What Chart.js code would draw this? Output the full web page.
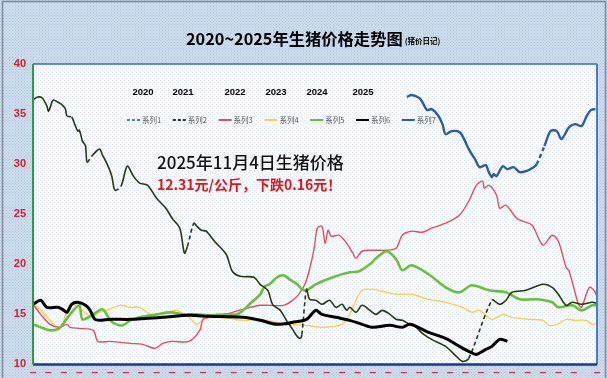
<!DOCTYPE html>
<html><head><meta charset="utf-8">
<script src="https://cdn.jsdelivr.net/npm/chart.js@4/dist/chart.umd.min.js"></script>
<style>
html,body{margin:0;padding:0;width:608px;height:378px;overflow:hidden;background:#cbdcef;}
canvas{display:block;}
</style></head><body>
<canvas id="c" width="608" height="378"></canvas>
<script>
// ---------- data (day of year, price 元/公斤); null = gap drawn dashed ----------
const TITLE = '2020~2025年生猪价格走势图';
const TITLE_NOTE = '(猪价日记)';
const YEARS = ['2020','2021','2022','2023','2024','2025'];
const SERIES_NAMES = ['系列1','系列2','系列3','系列4','系列5','系列6','系列7'];
const NOTE_LINE1 = '2025年11月4日生猪价格';
const NOTE_LINE2 = '12.31元/公斤，下跌0.16元！';
const Y_TICKS = [10,15,20,25,30,35,40];

const p2020dash = [];
const p2020 = [[242,36.7],[245,36.9],[250,36.6],[252,36.2],[255,35.4],[258,35.5],[262,34.9],[265,34.0],[267,33.0],[271,33.3],[276,33.2],[279,32.5],[282,31.5],[286,30.5],[289,29.7],[293,29.9],[295,29.2],[297,28.7],[298,29.0],[300,28.8],[304,29.8],[307,29.5],[311,29.7],[315,29.2],[319,29.3],[324,29.7],[326,30.0],[328,null],[331,31.8],[335,33.3],[339,33.3],[342,32.5],[347,33.7],[351,34.0],[355,33.8],[358,34.7],[361,35.4],[364,35.5]];
const p2021 = [[0,36.4],[3,36.7],[6,36.6],[9,35.8],[10,35.3],[11,35.6],[13,36.4],[16,36.2],[19,35.9],[21,35.5],[22,34.8],[23,null],[25,34.7],[27,34.0],[29,33.3],[30,33.4],[32,32.3],[34,31.8],[35,30.2],[36,null],[38,30.8],[43,31.5],[45,30.9],[48,30.0],[51,28.8],[53,27.4],[55,null],[57,27.8],[61,29.8],[65,28.8],[69,28.1],[74,27.9],[80,26.6],[86,25.6],[90,24.6],[95,23.6],[98,21.1],[100,21.8],[101,null],[104,24.1],[106,23.8],[109,23.4],[112,23.3],[118,22.2],[125,21.0],[129,19.3],[134,18.8],[143,18.7],[147,18.0],[152,17.4],[155,16.0],[160,15.4],[164,14.4],[168,13.5],[171,12.8],[173,12.6],[174,13.0],[175,null],[177,17.5],[179,16.5],[183,16.4],[187,16.0],[192,16.4],[196,15.7],[200,16.0],[203,15.4],[205,15.7],[209,15.2],[213,15.9],[218,15.4],[222,15.0],[226,15.4],[231,15.0],[235,14.5],[239,14.4],[244,14.0],[246,14.0],[252,13.1],[258,12.5],[267,11.8],[274,10.8],[278,10.3],[282,10.6],[283,null],[297,16.4],[302,16.0],[306,16.4],[310,17.2],[319,17.4],[330,18.0],[336,17.7],[340,17.0],[345,15.9],[349,16.2],[355,16.0],[362,16.2],[365,16.1]];
const p2022 = [[0,16.0],[5,15.0],[11,14.0],[17,13.7],[22,14.0],[24,13.7],[30,13.6],[39,13.4],[42,12.3],[50,12.3],[63,12.1],[71,12.0],[79,11.6],[84,12.1],[90,12.3],[101,12.3],[108,13.4],[110,14.5],[114,14.7],[119,15.0],[123,14.9],[129,15.2],[136,15.5],[147,15.9],[162,15.9],[168,16.4],[172,17.0],[176,18.0],[179,19.5],[182,21.6],[184,23.6],[187,23.8],[189,22.1],[191,23.4],[193,22.8],[198,22.9],[203,22.1],[207,21.1],[209,20.6],[213,21.3],[220,21.4],[229,21.4],[235,21.6],[239,22.9],[245,23.3],[252,23.2],[258,23.6],[267,24.1],[276,24.9],[282,26.3],[287,27.9],[291,28.3],[292,27.6],[295,27.9],[300,26.9],[302,25.6],[306,25.9],[313,24.6],[317,24.3],[323,23.9],[330,21.9],[336,22.9],[340,22.3],[345,19.7],[347,19.3],[353,16.0],[355,15.7],[360,17.7],[363,17.4],[365,16.8]];
const p2023 = [[0,16.0],[5,15.4],[11,14.4],[16,13.7],[19,13.9],[22,15.4],[26,16.0],[30,15.6],[35,15.0],[39,14.8],[43,15.2],[48,15.4],[56,15.9],[63,15.7],[69,15.7],[76,15.0],[84,15.0],[93,15.4],[101,14.7],[106,14.0],[110,14.4],[114,14.7],[127,14.6],[136,14.4],[147,14.5],[158,14.2],[166,14.0],[177,13.9],[187,13.7],[200,14.0],[205,15.0],[209,16.4],[213,17.4],[220,17.5],[226,17.3],[235,17.0],[245,17.0],[256,16.5],[267,16.2],[278,15.7],[284,15.2],[289,15.4],[297,14.5],[304,15.0],[310,14.7],[321,14.5],[330,14.4],[334,13.9],[339,14.0],[345,14.5],[351,14.4],[358,14.4],[362,14.0],[365,14.1]];
const p2024 = [[0,14.0],[5,13.7],[11,13.4],[17,13.6],[24,15.0],[30,15.9],[32,14.5],[39,15.0],[45,15.5],[50,14.4],[54,14.0],[58,13.9],[63,14.4],[69,14.7],[80,15.0],[89,15.2],[97,15.0],[106,15.0],[114,14.9],[124,15.0],[132,15.0],[136,15.4],[140,16.0],[147,17.0],[150,17.8],[153,18.0],[158,18.7],[162,18.9],[166,18.5],[171,18.0],[174,17.5],[177,17.4],[183,18.0],[194,18.7],[205,19.2],[211,19.3],[218,20.0],[222,20.6],[229,21.3],[235,20.5],[239,19.4],[245,19.9],[256,19.0],[267,17.7],[276,17.2],[284,17.9],[295,17.4],[306,17.2],[315,16.5],[326,16.5],[336,16.2],[340,15.7],[349,15.9],[355,15.4],[362,15.9],[365,15.9]];
const p2025 = [[0,16.0],[5,16.4],[9,15.7],[16,15.7],[19,15.5],[22,15.2],[25,16.0],[29,16.2],[34,15.9],[37,15.4],[40,14.5],[43,14.4],[50,14.5],[63,14.5],[84,14.7],[101,14.9],[114,14.8],[136,14.7],[147,14.4],[158,14.0],[168,14.2],[177,14.5],[183,15.4],[187,15.0],[196,14.7],[205,14.4],[213,14.0],[220,13.7],[231,13.9],[239,13.7],[244,14.0],[256,13.2],[267,12.6],[276,11.8],[282,11.3],[287,11.0],[293,11.5],[297,11.8],[302,12.5],[307,12.3]];

// ---------- styles ----------
const STYLES = [
  {color:'#4f81bd', width:2,   dash:[3,2], order:6},
  {color:'#243c12', width:1.6, dash:[3,2], order:1},
  {color:'#e0525a', width:1.4, dash:[],    order:3},
  {color:'#f3d24c', width:1.4, dash:[],    order:4},
  {color:'#6cbf3c', width:2.6, dash:[],    order:2},
  {color:'#000000', width:3,   dash:[],    order:0},
  {color:'#2f5d9e', width:2.4, dash:[],    order:5}
];
const SERIES_DATA = [p2020dash, p2021, p2022, p2023, p2024, p2025, p2020];

const gapDash = ctx => (ctx.p0.skip || ctx.p1.skip) ? [4,3] : undefined;

const datasets = SERIES_DATA.map((arr,i) => ({
  label: SERIES_NAMES[i],
  data: arr.map(([x,y]) => ({x, y})),
  borderColor: STYLES[i].color,
  borderWidth: STYLES[i].width,
  legendDash: STYLES[i].dash,
  order: STYLES[i].order,
  pointRadius: 0,
  tension: 0.3,
  spanGaps: true,
  fill: false,
  segment: {borderDash: gapDash}
}));

function makePattern(bg, dot, size){
  const c = document.createElement('canvas'); c.width = size; c.height = size;
  const g = c.getContext('2d');
  g.fillStyle = bg; g.fillRect(0,0,size,size);
  g.fillStyle = dot; g.fillRect(0,0,1,1);
  g.fillRect(size/2, size/2, 1, 1);
  return c;
}

const decoPlugin = {
  id:'deco',
  beforeDraw(chart){
    const {ctx, chartArea:a, width, height} = chart;
    ctx.save();
    ctx.fillStyle = ctx.createPattern(makePattern('#cddcee','#b4c6dc',3),'repeat');
    ctx.fillRect(0,0,width,height);
    ctx.strokeStyle = '#7d8898'; ctx.lineWidth = 1.5;
    ctx.strokeRect(2.5,1.5,width-5,height+5);
    ctx.fillStyle = ctx.createPattern(makePattern('#f7f9fc','#dfe6ef',4),'repeat');
    ctx.fillRect(a.left,a.top,a.right-a.left,a.bottom-a.top);
    ctx.restore();
  },
  afterDatasetsDraw(chart){
    const {ctx, chartArea:a} = chart;
    ctx.save();
    const line=(x1,y1,x2,y2,c,w)=>{ctx.strokeStyle=c;ctx.lineWidth=w;ctx.beginPath();ctx.moveTo(x1,y1);ctx.lineTo(x2,y2);ctx.stroke();};
    line(a.left,a.top,a.right,a.top,'#3a6cc0',1.5);
    line(a.right,a.top,a.right,a.bottom,'#4a7cc9',2);
    line(a.left,a.bottom,a.right,a.bottom,'#1d3a85',2.5);
    line(a.left,a.top,a.left,a.bottom,'#2a9a45',2);
    ctx.restore();
  },
  afterDraw(chart){
    const ctx = chart.ctx;
    ctx.save();
    ctx.textBaseline='middle'; ctx.textAlign='left';
    // title
    ctx.fillStyle='#000';
    ctx.font='bold 16.3px "Noto Sans CJK SC"';
    const tx = 186;
    ctx.fillText(TITLE, tx, 39);
    const tw = ctx.measureText(TITLE).width;
    ctx.font='bold 7.5px "Noto Sans CJK SC"';
    ctx.fillText(TITLE_NOTE, tx+tw+2, 41);
    // years
    ctx.font='bold 9.5px "Liberation Sans"';
    ctx.textAlign='center';
    const yearX=[143,183,235,276,317,363];
    YEARS.forEach((y,i)=>ctx.fillText(y, yearX[i], 92));
    // legend
    ctx.textAlign='left';
    chart.data.datasets.forEach((ds,i)=>{
      const x = 127 + i*45.8, y = 120;
      ctx.strokeStyle = ds.borderColor; ctx.lineWidth = 2;
      ctx.setLineDash(ds.legendDash||[]);
      ctx.beginPath(); ctx.moveTo(x,y); ctx.lineTo(x+13,y); ctx.stroke();
      ctx.setLineDash([]);
      ctx.fillStyle='#595959'; ctx.font='7.5px "Noto Sans CJK SC"';
      ctx.fillText(ds.label, x+15, y);
    });
    // annotation
    ctx.fillStyle='#111';
    ctx.font='500 17px "Noto Sans CJK SC"';
    ctx.fillText(NOTE_LINE1, 157, 163);
    ctx.fillStyle='#e0161c';
    ctx.font='bold 14px "Noto Sans CJK SC"';
    ctx.fillText(NOTE_LINE2, 157, 185);
    ctx.restore();
  }
};

new Chart(document.getElementById('c'), {
  type:'line',
  data:{datasets},
  plugins:[decoPlugin],
  options:{
    responsive:false, animation:false, devicePixelRatio:1,
    layout:{padding:{top:64,right:11,left:0,bottom:0}},
    plugins:{legend:{display:false}, tooltip:{enabled:false}, title:{display:false}},
    scales:{
      x:{type:'linear', min:0, max:365,
         grid:{display:false, drawTicks:false}, border:{display:false},
         afterFit:s=>{s.height=10;},
         ticks:{stepSize:10, autoSkip:false, maxRotation:0, padding:1,
                color:'#e0303a', font:{size:12, weight:'bold', family:'Liberation Sans'},
                callback:()=> '–'}},
      y:{min:10, max:40,
         grid:{display:false, drawTicks:false}, border:{display:false},
         afterFit:s=>{s.width=33;},
         afterBuildTicks:s=>{s.ticks = Y_TICKS.map(v=>({value:v}));},
         ticks:{padding:7, color:'#d42030', font:{size:11, weight:'bold', family:'Liberation Sans'}}}
    }
  }
});
</script></body></html>
